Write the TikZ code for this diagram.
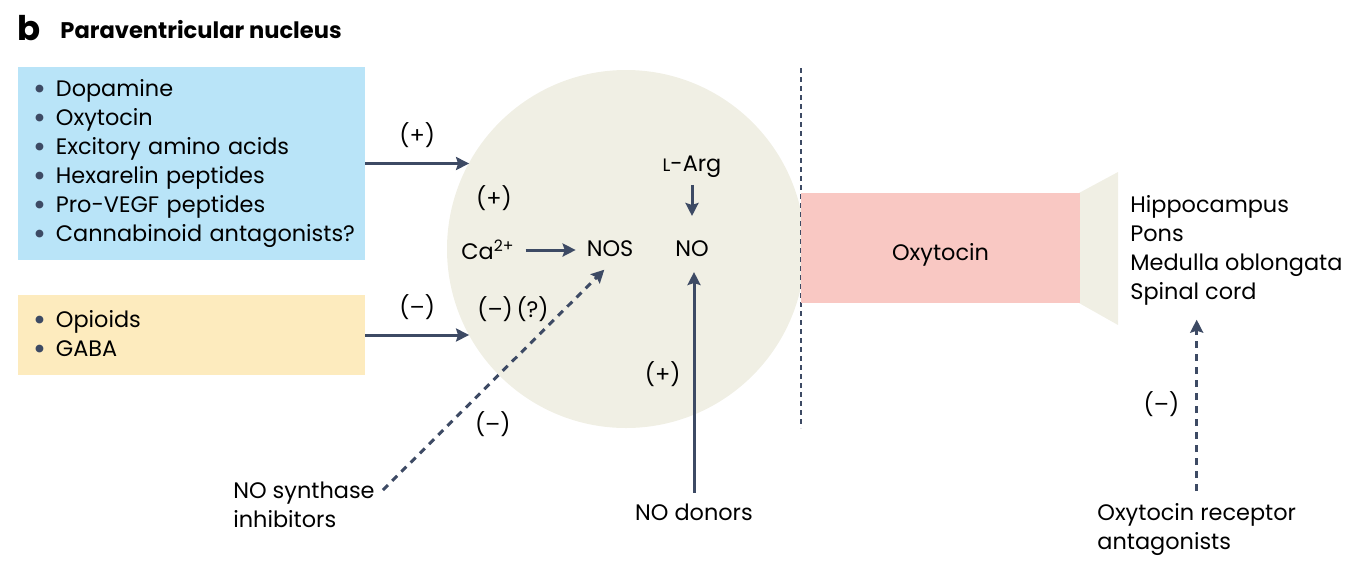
\documentclass[tikz,border=0pt]{standalone}
\usepackage{fontspec}
\setmainfont{Poppins}
\usetikzlibrary{arrows.meta}

\definecolor{slate}{HTML}{3D4A64}
\definecolor{excblue}{HTML}{B9E4F8}
\definecolor{inhyellow}{HTML}{FDEBBE}
\definecolor{pvnbeige}{HTML}{F0EFE4}
\definecolor{oxtpink}{HTML}{F9C8C3}

\newcommand{\bul}{\hspace*{8pt}{\color{slate}\raisebox{-1.3pt}{\scalebox{1.4}{•}}}\hspace{4.5pt}}

\begin{document}
\begin{tikzpicture}[x=0.5pt, y=-0.5pt,
  font=\fontsize{11.2}{14.5}\selectfont,
  listbox/.style={align=left, text width=173.5pt, inner xsep=0pt, inner ysep=0pt, minimum width=173.5pt},
  arr/.style={draw=slate, line width=1.5pt, -{Stealth[length=6.5pt,width=6.5pt,inset=1pt]}},
  dasharr/.style={arr, dash pattern=on 3.5pt off 3pt},
]
\useasboundingbox (0,0) rectangle (1366,575);

% heading
\node[anchor=base west, font=\fontsize{17}{17}\selectfont\bfseries, inner sep=0] (panel) at (17,40) {b};
\node[anchor=base west, font=\fontsize{11.3}{11.3}\selectfont\bfseries, inner sep=0] (title) at (60,38) {Paraventricular nucleus};

% nucleus and outputs
\node[circle, fill=pvnbeige, minimum size=179pt, inner sep=0] (pvn) at (626,249) {};
\draw[slate, line width=0.7pt, dash pattern=on 2.5pt off 2pt] (801,68) -- (801,428);
\fill[pvnbeige] (1079,193) -- (1118,172) -- (1118,325) -- (1079,303) -- cycle;
\node[fill=oxtpink, minimum width=139.5pt, minimum height=55pt, inner sep=0,
  text height=12pt, text depth=0pt] (oxt) at (940.5,248) {Oxytocin};

% inputs
\node[listbox, fill=excblue, minimum height=96.5pt] (exc) at (191.5,163.5)
  {\bul Dopamine\\\bul Oxytocin\\\bul Excitory amino acids\\\bul Hexarelin peptides\\\bul Pro-VEGF peptides\\\bul Cannabinoid antagonists?};
\node[listbox, fill=inhyellow, minimum height=40pt] (inh) at (191.5,335)
  {\bul Opioids\\\bul GABA};
\draw[arr] (exc.east) -- (exc.east -| pvn.151) node[midway, yshift=14pt] {(+)};
\draw[arr] (inh.east) -- (inh.east -| pvn.209) node[midway, yshift=14pt] {(–)};

% inside the nucleus
\node (ca) at (488,250) {Ca\textsuperscript{2+}};
\node (nos) at (610,249) {NOS};
\node (no) at (692,249) {NO};
\node (larg) at (692,167) {{\fontsize{9}{9}\selectfont L}-Arg};
\node (capos) at (494,198) {(+)};
\node (nosneg) at (513,309) {(–)\,(?)};
\draw[arr, shorten <=2pt, shorten >=2pt] (ca.east) -- (nos.west |- ca.east);
\draw[arr, shorten >=9pt] (larg.south) -- (larg.south |- no.north);

% drugs
\node[anchor=north west, align=left, inner sep=0] (nsi) at (233,482) {NO synthase\\inhibitors};
\draw[dasharr, shorten >=4pt] ([shift={(4pt,-4pt)}]nsi.north east) -- (nos.south)
  node[pos=0.29, xshift=22pt] {(–)};
\node (donors) at (694,512) {NO donors};
\draw[arr, shorten <=2pt, shorten >=4pt] (donors.north) -- (donors.north |- no.south)
  node[midway, left=6pt, inner sep=0, yshift=3pt] {(+)};

% targets
\node[anchor=north west, align=left, inner sep=0] (tgt) at (1130,195) {Hippocampus\\Pons\\Medulla oblongata\\Spinal cord};
\node[anchor=north west, align=left, inner sep=0] (ora) at (1097,503) {Oxytocin receptor\\antagonists};
\draw[dasharr, shorten <=6pt, shorten >=7pt] (ora.north) -- (ora.north |- tgt.south)
  node[midway, left=8pt, inner sep=0] {(–)};
\end{tikzpicture}
\end{document}
